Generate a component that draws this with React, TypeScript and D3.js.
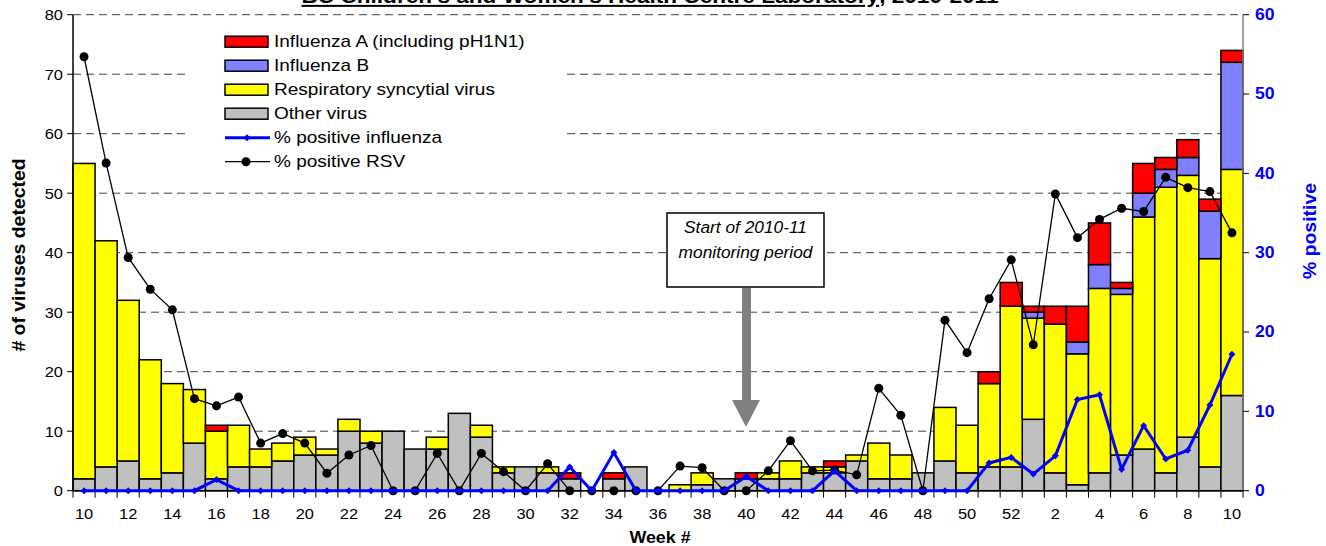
import * as d3 from 'd3';
import type { ReactNode } from 'react';

// weeks: 2010 wk 10..52 then 2011 wk 1..10
const weeks = [
    10, 11, 12, 13, 14, 15, 16, 17, 18, 19, 20, 21, 22, 23, 24, 25, 26, 27, 28, 29, 30, 31, 32, 33, 34, 35,
    36, 37, 38, 39, 40, 41, 42, 43, 44, 45, 46, 47, 48, 49, 50, 51, 52, 1, 2, 3, 4, 5, 6, 7, 8, 9, 10,
];
const otherVirus = [
    2, 4, 5, 2, 3, 8, 2, 4, 4, 5, 6, 6, 10, 8, 10, 7, 7, 13, 9, 3, 4, 3, 2, 0, 2, 4, 0, 0, 1, 2, 2, 2, 2,
    3, 3, 5, 2, 2, 3, 5, 3, 4, 4, 12, 3, 1, 3, 6, 7, 3, 9, 4, 16,
];
const rsv = [
    53, 38, 27, 20, 15, 9, 8, 7, 3, 3, 3, 1, 2, 2, 0, 0, 2, 0, 2, 1, 0, 1, 0, 0, 0, 0, 0, 1, 2, 0, 0, 1, 3,
    1, 1, 1, 6, 4, 0, 9, 8, 14, 27, 17, 25, 22, 31, 27, 39, 48, 44, 35, 38,
];
const fluB = [
    0, 0, 0, 0, 0, 0, 0, 0, 0, 0, 0, 0, 0, 0, 0, 0, 0, 0, 0, 0, 0, 0, 0, 0, 0, 0, 0, 0, 0, 0, 0, 0, 0, 0,
    0, 0, 0, 0, 0, 0, 0, 0, 0, 1, 0, 2, 4, 1, 4, 3, 3, 8, 18,
];
const fluA = [
    0, 0, 0, 0, 0, 0, 1, 0, 0, 0, 0, 0, 0, 0, 0, 0, 0, 0, 0, 0, 0, 0, 1, 0, 1, 0, 0, 0, 0, 0, 1, 0, 0, 0,
    1, 0, 0, 0, 0, 0, 0, 2, 4, 1, 3, 6, 7, 1, 5, 2, 3, 2, 2,
];
const pctRsv = [
    54.7, 41.3, 29.4, 25.4, 22.8, 11.6, 10.7, 11.8, 6.0, 7.2, 6.0, 2.2, 4.5, 5.7, 0, 0, 4.7, 0, 4.7, 2.4,
    0, 3.4, 0, 0, 0, 0, 0, 3.1, 2.9, 0, 0, 2.5, 6.3, 2.5, 2.6, 2.0, 12.9, 9.5, 0, 21.5, 17.4, 24.2, 29.1,
    18.4, 37.4, 31.9, 34.2, 35.6, 35.2, 39.5, 38.2, 37.7, 32.5,
];
const pctFlu = [
    0, 0, 0, 0, 0, 0, 1.4, 0, 0, 0, 0, 0, 0, 0, 0, 0, 0, 0, 0, 0, 0, 0, 3.0, 0, 4.8, 0, 0, 0, 0, 0, 1.8,
    0, 0, 0, 2.5, 0, 0, 0, 0, 0, 0, 3.5, 4.2, 2.1, 4.4, 11.5, 12.1, 2.7, 8.2, 4.0, 5.1, 10.8, 17.2,
];
const leftTicks = [0, 10, 20, 30, 40, 50, 60, 70, 80];
const rightTicks = [0, 10, 20, 30, 40, 50, 60];
const seriesKeys = ['other', 'rsv', 'fluB', 'fluA'] as const;
const seriesColours: Record<string, string> = {
    other: '#c0c0c0',
    rsv: '#ffff00',
    fluB: '#8080ff',
    fluA: '#ff0000',
};
const legendBoxes = [
    { label: 'Influenza A (including pH1N1)', key: 'fluA' },
    { label: 'Influenza B', key: 'fluB' },
    { label: 'Respiratory syncytial virus', key: 'rsv' },
    { label: 'Other virus', key: 'other' },
];

const W = 1326;
const H = 546;
const margin = { left: 73, right: 83, top: 14.7, bottom: 55.3 };
const font = '"Liberation Sans", Arial, sans-serif';

// text slightly stretched along its direction, as Excel renders it
interface TxtProps {
    x: number;
    y: number;
    sx?: number;
    rotate?: number;
    children: ReactNode;
    [k: string]: any;
}
function Txt(props: TxtProps) {
    const { x, y, sx = 1, rotate = 0, children, ...rest } = props;
    return (
        <text transform={`translate(${x},${y}) rotate(${rotate}) scale(${sx},1)`} {...rest}>
            {children}
        </text>
    );
}

export default function App() {
    const idx = weeks.map((_, i) => String(i));
    const x = d3.scaleBand<string>().domain(idx).range([margin.left, W - margin.right]).padding(0);
    const y = d3.scaleLinear().domain([0, 80]).range([H - margin.bottom, margin.top]);
    const y2 = d3.scaleLinear().domain([0, 60]).range([H - margin.bottom, margin.top]);
    const bw = x.bandwidth();
    const cx = (i: number) => (x(String(i)) || 0) + bw / 2;

    const rows = weeks.map((_, i) => ({
        other: otherVirus[i],
        rsv: rsv[i],
        fluB: fluB[i],
        fluA: fluA[i],
    }));
    const stacked = d3.stack<any>().keys(seriesKeys as any)(rows);

    const line = d3
        .line<number>()
        .x((_, i) => cx(i))
        .y((d) => y2(d));

    const x0 = margin.left;
    const x1 = W - margin.right;
    const yBase = y(0);

    return (
        <svg
            width={W}
            height={H}
            style={{ position: 'absolute', left: 0, top: 0, background: '#fff' }}
            fontFamily={font}
        >
            {/* title, clipped at top like the source */}
            <Txt x={650} y={3} sx={1.13} textAnchor="middle" fontSize={20} fontWeight="bold">
                <tspan textDecoration="underline">BC Children's and Women's Health Centre Laboratory</tspan>
                <tspan>, 2010-2011</tspan>
            </Txt>

            {/* grid */}
            {leftTicks
                .filter((t) => t > 0)
                .map((t) => (
                    <line
                        key={t}
                        x1={x0}
                        x2={x1}
                        y1={y(t)}
                        y2={y(t)}
                        stroke="#404040"
                        strokeDasharray="8,5"
                        strokeWidth={1}
                    />
                ))}

            {/* legend background */}
            <rect x={186} y={24} width={380} height={152} fill="#fff" />

            {/* bars */}
            {stacked.map((s) =>
                s.map((d, i) =>
                    d[1] - d[0] > 0 ? (
                        <rect
                            key={s.key + i}
                            x={x(String(i))}
                            width={bw}
                            y={y(d[1])}
                            height={y(d[0]) - y(d[1])}
                            fill={seriesColours[s.key]}
                            stroke="#000"
                            strokeWidth={1.5}
                        />
                    ) : null
                )
            )}

            {/* axes */}
            <line x1={x0} x2={x0} y1={margin.top} y2={yBase} stroke="#000" strokeWidth={1.5} />
            <line x1={x1} x2={x1} y1={margin.top} y2={yBase} stroke="#808080" strokeWidth={1.5} />
            <line x1={x0} x2={x1} y1={yBase} y2={yBase} stroke="#000" strokeWidth={1.5} />
            {leftTicks.map((t) => (
                <g key={t}>
                    <line x1={x0 - 6} x2={x0} y1={y(t)} y2={y(t)} stroke="#000" strokeWidth={1} />
                    <Txt
                        x={x0 - 10}
                        y={y(t)}
                        sx={1.06}
                        textAnchor="end"
                        dominantBaseline="central"
                        fontSize={15.5}
                    >
                        {t}
                    </Txt>
                </g>
            ))}
            {rightTicks.map((t) => (
                <g key={t}>
                    <line x1={x1} x2={x1 + 6} y1={y2(t)} y2={y2(t)} stroke="#000" strokeWidth={1} />
                    <Txt
                        x={x1 + 12}
                        y={y2(t)}
                        sx={1.1}
                        dominantBaseline="central"
                        fontSize={16}
                        fontWeight="bold"
                        fill="#0000ff"
                    >
                        {t}
                    </Txt>
                </g>
            ))}
            {d3.range(weeks.length + 1).map((i) => {
                const px = margin.left + i * bw;
                return (
                    <line key={i} x1={px} x2={px} y1={yBase} y2={yBase + 7} stroke="#000" strokeWidth={1} />
                );
            })}
            {weeks.map((w, i) =>
                w % 2 === 0 ? (
                    <Txt key={i} x={cx(i)} y={519} sx={1.06} textAnchor="middle" fontSize={15.5}>
                        {w}
                    </Txt>
                ) : null
            )}

            {/* lines */}
            <path d={line(pctRsv) || ''} fill="none" stroke="#000" strokeWidth={1.3} />
            {pctRsv.map((v, i) => (
                <circle key={i} cx={cx(i)} cy={y2(v)} r={4.5} fill="#000" />
            ))}
            <path d={line(pctFlu) || ''} fill="none" stroke="#0000ff" strokeWidth={3} />
            {pctFlu.map((v, i) => (
                <path
                    key={i}
                    d={`M${cx(i)},${y2(v) - 3.5}l3.5,3.5l-3.5,3.5l-3.5,-3.5z`}
                    fill="#0000ff"
                />
            ))}

            {/* legend */}
            {legendBoxes.map((b, i) => (
                <g key={b.key} transform={`translate(0, ${41.7 + i * 24})`}>
                    <rect
                        x={225}
                        y={-5.5}
                        width={43}
                        height={11}
                        fill={seriesColours[b.key]}
                        stroke="#000"
                        strokeWidth={1.5}
                    />
                    <Txt x={274} y={0} sx={1.12} dominantBaseline="central" fontSize={17}>
                        {b.label}
                    </Txt>
                </g>
            ))}
            <g transform="translate(0, 137.7)">
                <line x1={225} x2={270} y1={0} y2={0} stroke="#0000ff" strokeWidth={3} />
                <path d="M247,-3.5l3.5,3.5l-3.5,3.5l-3.5,-3.5z" fill="#0000ff" />
                <Txt x={274} y={0} sx={1.12} dominantBaseline="central" fontSize={17}>
                    % positive influenza
                </Txt>
            </g>
            <g transform="translate(0, 161.7)">
                <line x1={225} x2={270} y1={0} y2={0} stroke="#000" strokeWidth={1.3} />
                <circle cx={246} cy={0} r={4.5} fill="#000" />
                <Txt x={274} y={0} sx={1.12} dominantBaseline="central" fontSize={17}>
                    % positive RSV
                </Txt>
            </g>

            {/* annotation */}
            <rect x={667} y={213} width={157} height={74} fill="#fff" stroke="#000" strokeWidth={1.5} />
            <Txt
                x={745.5}
                y={228}
                sx={1.05}
                textAnchor="middle"
                dominantBaseline="central"
                fontSize={16.5}
                fontStyle="italic"
            >
                Start of 2010-11
            </Txt>
            <Txt
                x={745.5}
                y={253}
                sx={1.05}
                textAnchor="middle"
                dominantBaseline="central"
                fontSize={16.5}
                fontStyle="italic"
            >
                monitoring period
            </Txt>
            <path d="M742,288 L751,288 L751,400 L760,400 L746,427 L732,400 L742,400 Z" fill="#808080" />

            {/* axis titles */}
            <Txt
                x={18.5}
                y={255}
                rotate={-90}
                sx={1.08}
                textAnchor="middle"
                dominantBaseline="central"
                fontSize={18}
                fontWeight="bold"
            >
                # of viruses detected
            </Txt>
            <Txt
                x={1310}
                y={231}
                rotate={-90}
                sx={1.08}
                textAnchor="middle"
                dominantBaseline="central"
                fontSize={18}
                fontWeight="bold"
                fill="#0000ff"
            >
                % positive
            </Txt>
            <Txt x={660} y={543} sx={1.05} textAnchor="middle" fontSize={17} fontWeight="bold">
                Week #
            </Txt>
        </svg>
    );
}
